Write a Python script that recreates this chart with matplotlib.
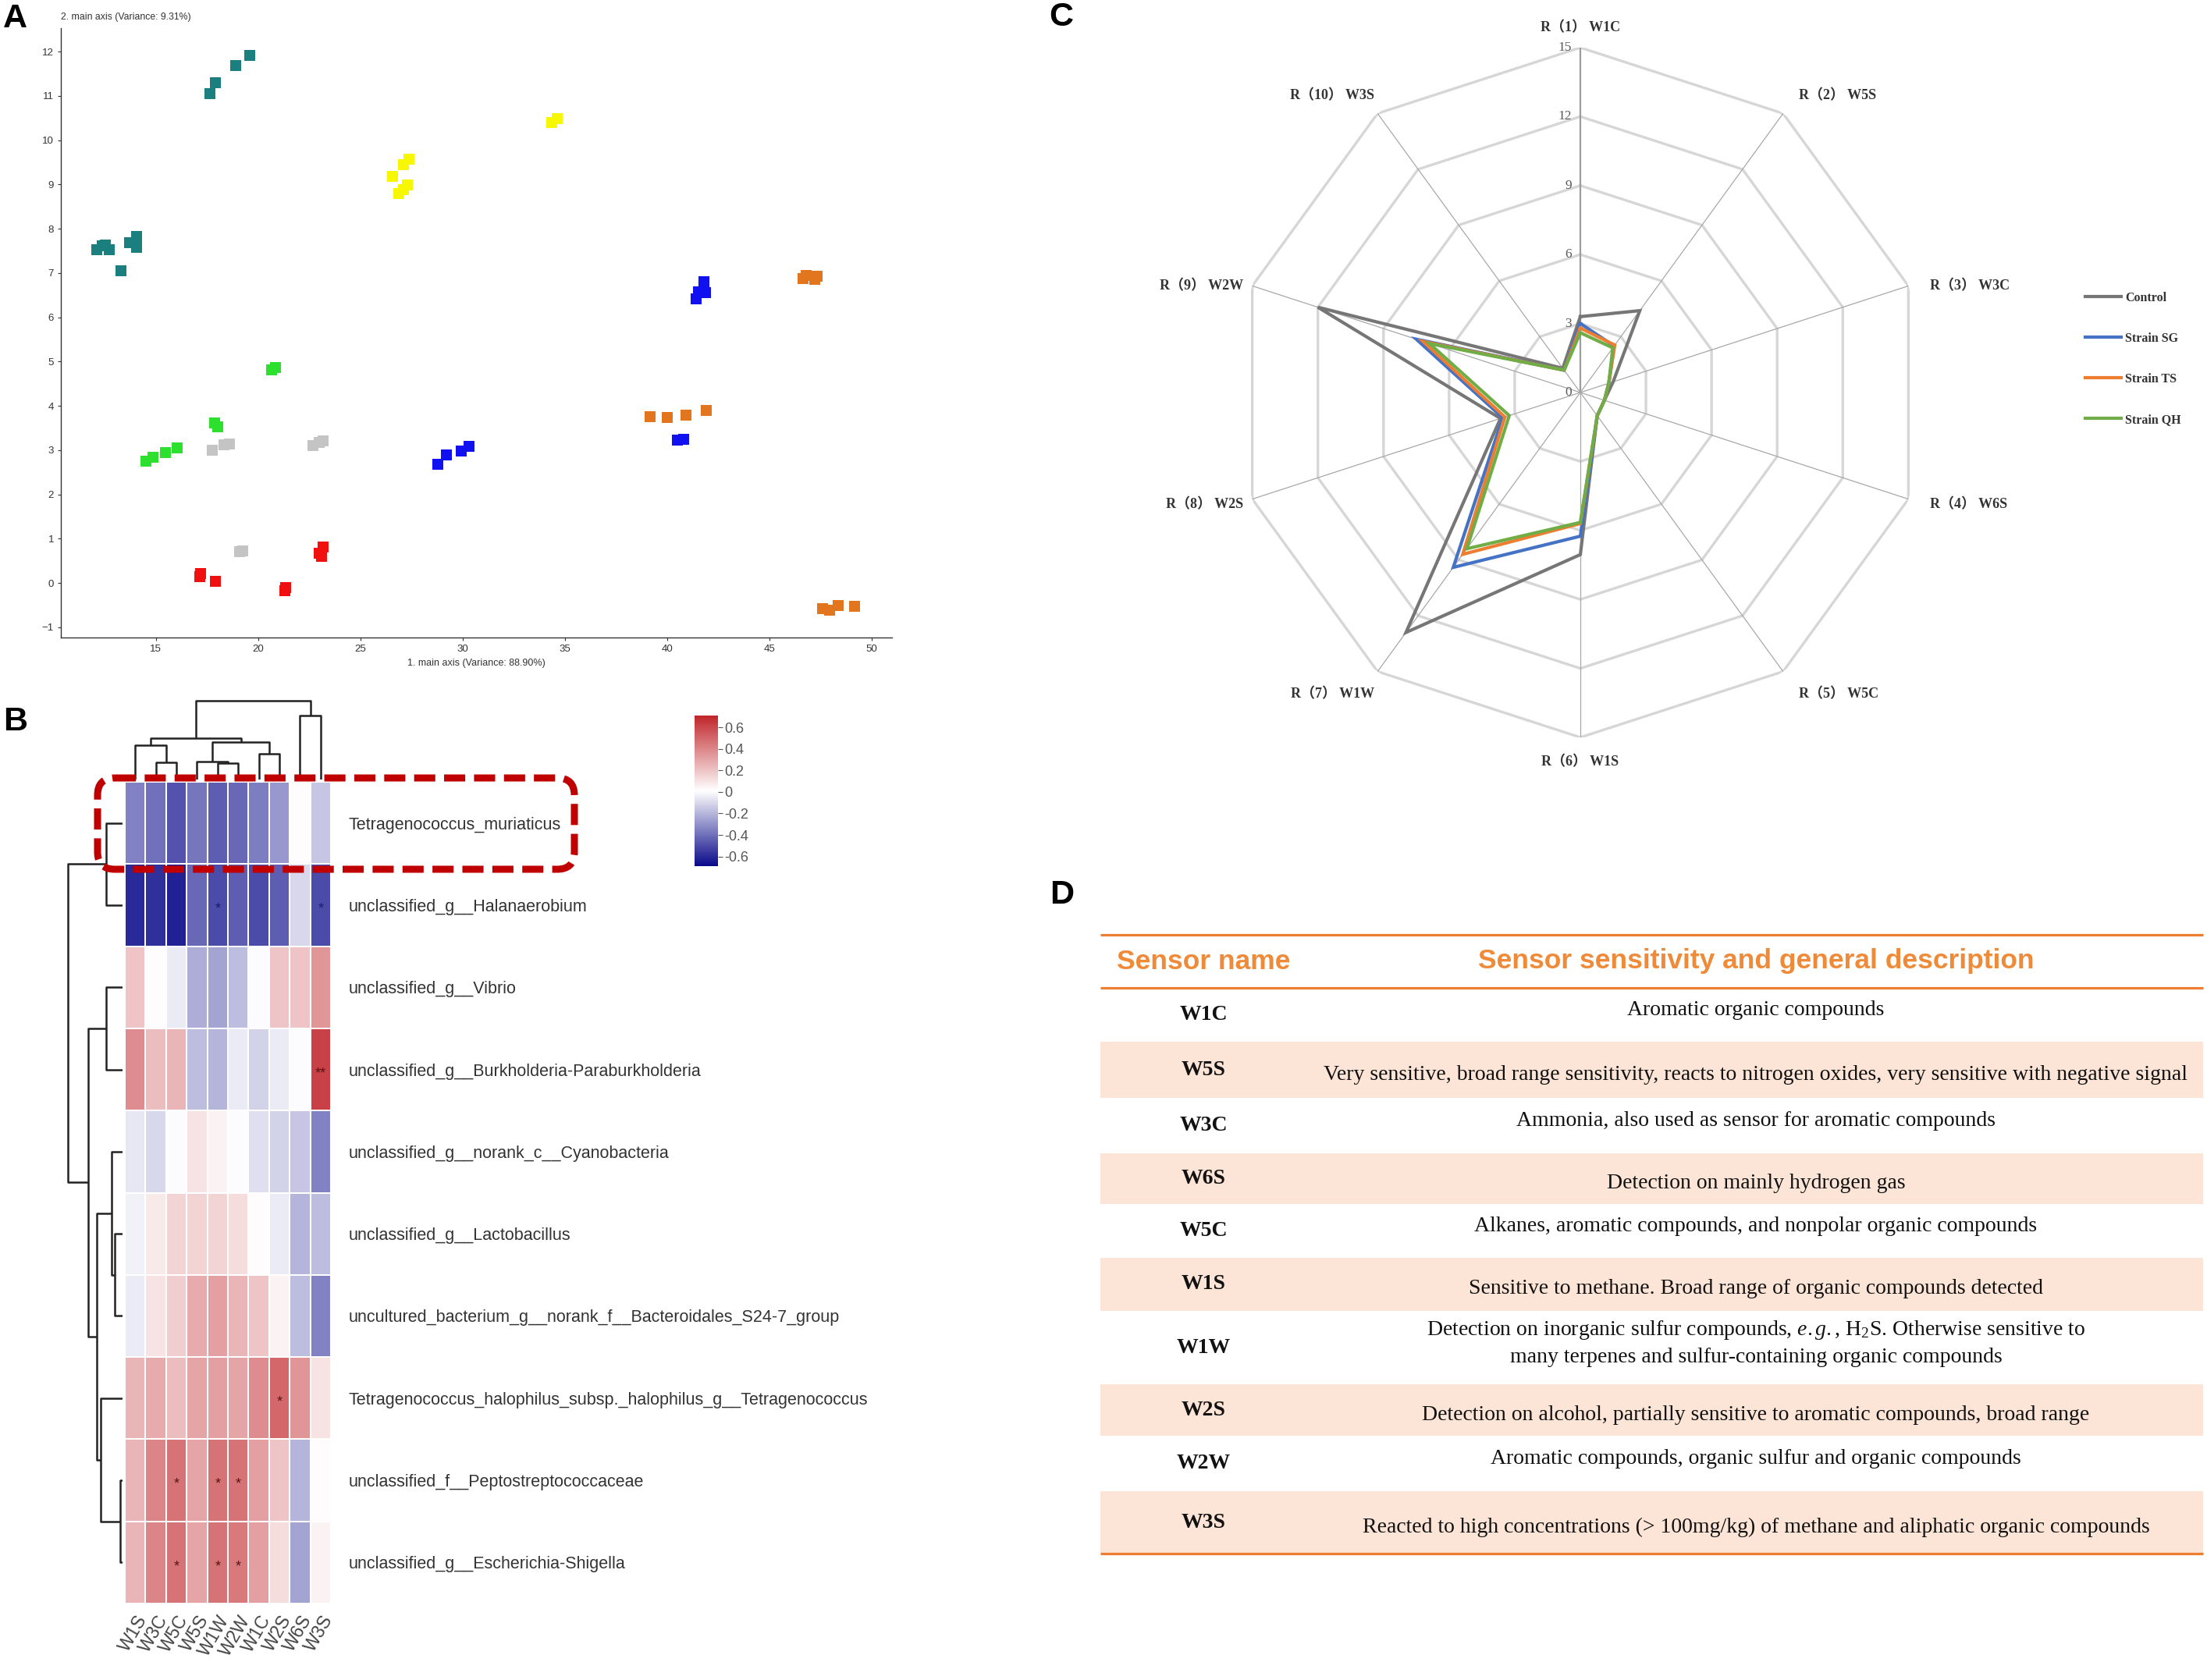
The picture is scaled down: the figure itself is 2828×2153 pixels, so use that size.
import matplotlib
matplotlib.use('Agg')
import matplotlib.pyplot as plt
import numpy as np
from matplotlib.colors import LinearSegmentedColormap
from matplotlib.patches import FancyBboxPatch, Rectangle

plt.rcParams['font.family'] = ['Liberation Sans', 'DejaVu Sans']
plt.rcParams['mathtext.fontset'] = 'custom'
plt.rcParams['mathtext.rm'] = 'Liberation Serif'
plt.rcParams['mathtext.it'] = 'Liberation Serif:italic'

# ---- panel A: PCA scores ----
pca_x = [17.64, 17.92, 18.91, 19.59, 12.11, 12.39, 12.53, 12.73, 13.27, 13.72, 14.04, 14.06,
         26.56, 26.87, 27.10, 27.30, 27.10, 27.36, 34.35, 34.61,
         20.67, 20.84, 17.86, 18.03, 14.52, 14.86, 15.48, 16.05,
         17.75, 18.32, 18.60, 22.68, 23.00, 23.16, 19.08, 19.25,
         17.15, 17.18, 17.89, 21.32, 21.35, 23.00, 23.08, 23.19,
         28.80, 29.20, 29.93, 30.30, 40.50, 40.79, 41.41, 41.52, 41.89, 41.81,
         39.17, 39.99, 40.93, 41.92, 46.65, 46.82, 47.22, 47.33, 47.62, 47.93, 48.38, 49.15]
pca_y = [11.05, 11.30, 11.69, 11.92, 7.53, 7.61, 7.63, 7.53, 7.05, 7.69, 7.58, 7.82,
         9.18, 8.79, 8.89, 8.99, 9.45, 9.57, 10.40, 10.49,
         4.81, 4.86, 3.61, 3.53, 2.75, 2.84, 2.94, 3.06,
         2.99, 3.13, 3.14, 3.11, 3.18, 3.21, 0.71, 0.73,
         0.14, 0.21, 0.03, -0.18, -0.10, 0.68, 0.61, 0.82,
         2.69, 2.89, 2.98, 3.09, 3.22, 3.25, 6.41, 6.58, 6.56, 6.81,
         3.76, 3.74, 3.79, 3.90, 6.88, 6.95, 6.85, 6.93, -0.57, -0.61, -0.51, -0.52]
pca_group = (['teal'] * 12 + ['yellow'] * 8 + ['green'] * 8 + ['gray'] * 8 +
             ['red'] * 8 + ['blue'] * 10 + ['orange'] * 12)
group_colors = {'teal': '#1b7f80', 'yellow': '#f7f700', 'green': '#2ee02e', 'gray': '#c4c4c4',
                'red': '#f01010', 'blue': '#1010f0', 'orange': '#e2761e'}

# ---- panel B: correlation heatmap ----
sensor_cols = ['W1S', 'W3C', 'W5C', 'W5S', 'W1W', 'W2W', 'W1C', 'W2S', 'W6S', 'W3S']
taxa = ['Tetragenococcus_muriaticus',
        'unclassified_g__Halanaerobium',
        'unclassified_g__Vibrio',
        'unclassified_g__Burkholderia-Paraburkholderia',
        'unclassified_g__norank_c__Cyanobacteria',
        'unclassified_g__Lactobacillus',
        'uncultured_bacterium_g__norank_f__Bacteroidales_S24-7_group',
        'Tetragenococcus_halophilus_subsp._halophilus_g__Tetragenococcus',
        'unclassified_f__Peptostreptococcaceae',
        'unclassified_g__Escherichia-Shigella']
corr = [[-0.35, -0.40, -0.48, -0.38, -0.45, -0.42, -0.36, -0.28, 0.02, -0.15],
        [-0.60, -0.58, -0.62, -0.42, -0.50, -0.45, -0.50, -0.45, -0.10, -0.50],
        [0.20, 0.02, -0.05, -0.22, -0.25, -0.18, 0.00, 0.20, 0.20, 0.35],
        [0.38, 0.22, 0.25, -0.18, -0.20, -0.05, -0.12, -0.05, 0.00, 0.62],
        [-0.06, -0.10, 0.00, 0.10, 0.05, 0.00, -0.08, -0.12, -0.15, -0.35],
        [-0.03, 0.08, 0.15, 0.15, 0.15, 0.12, 0.02, -0.05, -0.20, -0.18],
        [-0.05, 0.10, 0.17, 0.28, 0.32, 0.25, 0.20, 0.05, -0.18, -0.35],
        [0.25, 0.28, 0.22, 0.30, 0.32, 0.30, 0.38, 0.50, 0.35, 0.10],
        [0.25, 0.40, 0.46, 0.30, 0.46, 0.46, 0.32, 0.20, -0.20, 0.02],
        [0.25, 0.40, 0.46, 0.30, 0.46, 0.44, 0.32, 0.12, -0.25, 0.05]]
signif = [['', '', '', '', '', '', '', '', '', ''],
          ['', '', '', '', '*', '', '', '', '', '*'],
          ['', '', '', '', '', '', '', '', '', ''],
          ['', '', '', '', '', '', '', '', '', '**'],
          ['', '', '', '', '', '', '', '', '', ''],
          ['', '', '', '', '', '', '', '', '', ''],
          ['', '', '', '', '', '', '', '', '', ''],
          ['', '', '', '', '', '', '', '*', '', ''],
          ['', '', '*', '', '*', '*', '', '', '', ''],
          ['', '', '*', '', '*', '*', '', '', '', '']]
# dendrogram merges: (left id, right id, height)
col_links = [(1, 2, 21.7), (0, 10, 44), (4, 5, 20.7), (3, 12, 23.3), (6, 7, 32.7),
             (13, 14, 48.3), (11, 15, 53.3), (8, 9, 82.3), (16, 17, 100.7)]
row_links = [(0, 1, 20.7), (2, 3, 20.7), (5, 6, 10), (4, 12, 14.3), (8, 9, 3.3),
             (7, 14, 27.7), (13, 15, 32.7), (11, 16, 44.3), (10, 17, 70)]

# ---- panel C: e-nose radar ----
radar_labels = ['R（1） W1C', 'R（2） W5S', 'R（3） W3C', 'R（4） W6S', 'R（5） W5C',
                'R（6） W1S', 'R（7） W1W', 'R（8） W2S', 'R（9） W2W', 'R（10） W3S']
radar_series = ['Control', 'Strain SG', 'Strain TS', 'Strain QH']
control = [3.3, 4.4, 1.5, 1.1, 1.25, 7.05, 12.9, 3.65, 12.0, 1.3]
strain_sg = [3.0, 2.5, 1.3, 1.1, 1.25, 6.25, 9.4, 3.55, 7.5, 1.2]
strain_ts = [2.8, 2.55, 1.3, 1.1, 1.25, 5.7, 8.7, 3.45, 7.2, 1.2]
strain_qh = [2.6, 2.4, 1.3, 1.1, 1.25, 5.65, 8.4, 3.25, 6.9, 1.2]
radar_colors = ['#767676', '#4472c4', '#ed7d31', '#70ad47']
radar_ticks = [0, 3, 6, 9, 12, 15]

# ---- panel D: sensor table ----
sensor_names = ['W1C', 'W5S', 'W3C', 'W6S', 'W5C', 'W1S', 'W1W', 'W2S', 'W2W', 'W3S']
sensor_desc = ['Aromatic organic compounds',
               'Very sensitive, broad range sensitivity, reacts to nitrogen oxides, very sensitive with negative signal',
               'Ammonia, also used as sensor for aromatic compounds',
               'Detection on mainly hydrogen gas',
               'Alkanes, aromatic compounds, and nonpolar organic compounds',
               'Sensitive to methane. Broad range of organic compounds detected',
               'Detection on inorganic sulfur compounds, $e.g.$, H$_2$S. Otherwise sensitive to\n'
               'many terpenes and sulfur-containing organic compounds',
               'Detection on alcohol, partially sensitive to aromatic compounds, broad range',
               'Aromatic compounds, organic sulfur and organic compounds',
               'Reacted to high concentrations (> 100mg/kg) of methane and aliphatic organic compounds']

W, H = 2828, 2153
fig = plt.figure(figsize=(W / 100, H / 100), dpi=100)


def px_axes(left, top, right, bottom, **kw):
    # add axes from a pixel box (origin top-left)
    return fig.add_axes([left / W, 1 - bottom / H, (right - left) / W, (bottom - top) / H], **kw)


# ===== A =====
axA = px_axes(78, 36, 1143, 817)
for g, c in group_colors.items():
    xs = [x for x, gg in zip(pca_x, pca_group) if gg == g]
    ys = [y for y, gg in zip(pca_y, pca_group) if gg == g]
    axA.scatter(xs, ys, marker='s', s=90, color=c, linewidths=0)
axA.set_xlim(10.35, 51.0)
axA.set_ylim(-1.23, 12.53)
axA.set_xticks(range(15, 51, 5))
axA.set_yticks(range(-1, 13))
axA.spines[['top', 'right']].set_visible(False)
for s in ['left', 'bottom']:
    axA.spines[s].set_color('#333333')
    axA.spines[s].set_linewidth(1.0)
axA.tick_params(labelsize=9.5, length=3, width=0.8, colors='#333333')
axA.set_xlabel('1. main axis (Variance: 88.90%)', fontsize=9, color='#333333', labelpad=4)
fig.text(78 / W, 1 - 22 / H, '2. main axis (Variance: 9.31%)', fontsize=8.8, color='#333333',
         va='center', ha='left')

# ===== B =====
cmap = LinearSegmentedColormap.from_list('corr', ['#0a0a8a', '#ffffff', '#c0262b'])
hx0, hx1, hy0, hy1 = 160, 424, 1002, 2055
axH = px_axes(hx0, hy0, hx1, hy1)
data = np.array(corr)
mesh = axH.pcolormesh(data, cmap=cmap, vmin=-0.69, vmax=0.71, edgecolors='white', linewidth=1.2)
axH.set_xlim(0, len(sensor_cols))
axH.set_ylim(len(taxa), 0)
for sp in axH.spines.values():
    sp.set_visible(False)
axH.yaxis.tick_right()
axH.set_yticks(np.arange(len(taxa)) + 0.5, labels=taxa)
axH.set_xticks(np.arange(len(sensor_cols)) + 0.5, labels=sensor_cols)
axH.tick_params(axis='y', length=0, pad=16, labelsize=15.5, labelcolor='#333333')
axH.tick_params(axis='x', length=0, pad=8, labelsize=16.5, labelcolor='#444444')
for lab in axH.get_xticklabels():
    lab.set_rotation(60)
    lab.set_ha('right')
    lab.set_rotation_mode('anchor')
for i in range(len(taxa)):
    for j in range(len(sensor_cols)):
        if signif[i][j]:
            col = '#1c1c70' if corr[i][j] < -0.3 else '#5a1414'
            axH.text(j + 0.5, i + 0.55, signif[i][j], ha='center', va='center', fontsize=13, color=col)


def draw_dendro(ax, links, n, orient):
    pos = {i: i + 0.5 for i in range(n)}
    hgt = {i: 0.0 for i in range(n)}
    for k, (a, b, h) in enumerate(links):
        xs = [pos[a], pos[a], pos[b], pos[b]]
        ys = [hgt[a], h, h, hgt[b]]
        if orient == 'top':
            ax.plot(xs, ys, color='#222222', lw=1.8, solid_capstyle='butt')
        else:
            ax.plot(ys, xs, color='#222222', lw=1.8, solid_capstyle='butt')
        pos[n + k] = (pos[a] + pos[b]) / 2
        hgt[n + k] = h


axCD = px_axes(hx0, 890, hx1, 999)
draw_dendro(axCD, col_links, len(sensor_cols), 'top')
axCD.set_xlim(0, len(sensor_cols))
axCD.set_ylim(0, 109)
axCD.axis('off')

axRD = px_axes(84, hy0, hx0 - 3, hy1)
draw_dendro(axRD, row_links, len(taxa), 'left')
axRD.set_xlim(73, 0)
axRD.set_ylim(len(taxa), 0)
axRD.axis('off')

cax = px_axes(890, 917, 920, 1110)
cb = fig.colorbar(mesh, cax=cax, ticks=[0.6, 0.4, 0.2, 0, -0.2, -0.4, -0.6])
cb.outline.set_visible(False)
cb.ax.set_yticklabels(['0.6', '0.4', '0.2', '0', '-0.2', '-0.4', '-0.6'])
cb.ax.tick_params(labelsize=13, length=4, width=0.8, colors='#555555', pad=2)

# ===== C =====
cx, cy, R = 2025, 503, 442
axR = px_axes(cx - R, cy - R, cx + R, cy + R, projection='polar')
axR.set_theta_zero_location('N')
axR.set_theta_direction(-1)
axR.set_ylim(0, 15)
axR.grid(False)
axR.spines['polar'].set_visible(False)
axR.set_xticks([])
axR.set_yticks([])
theta = np.arange(len(radar_labels)) * 2 * np.pi / len(radar_labels)
theta_c = np.append(theta, theta[0])
for r in radar_ticks[1:]:
    axR.plot(theta_c, [r] * len(theta_c), color='#d6d6d6', lw=2.4, zorder=1)
for k, t in enumerate(theta):
    axR.plot([t, t], [0, 15], color='#9c9c9c' if k == 0 else '#a8a8a8',
             lw=1.6 if k == 0 else 0.9, zorder=2)
series_lines = []
for vals, name, col in zip([control, strain_sg, strain_ts, strain_qh], radar_series, radar_colors):
    ln, = axR.plot(theta_c, vals + vals[:1], color=col, lw=3, label=name, zorder=3,
                   solid_joinstyle='miter')
    series_lines.append(ln)
for r in radar_ticks:
    axR.annotate(str(r), xy=(0, r), xytext=(-8, 0), textcoords='offset points', ha='right',
                 va='center', fontsize=12.5, color='#595959', family=['Liberation Serif'])
label_offsets = [(0, 18.7), (14.4, 16.6), (20, 0), (20, -5), (14.4, -21),
                 (0, -23), (-3, -21), (-8.6, -5), (-8.6, 0), (-3, 16.6)]
for t, lab, off in zip(theta, radar_labels, label_offsets):
    s = np.sin(t)
    ha = 'center' if abs(s) < 0.1 else ('left' if s > 0 else 'right')
    axR.annotate(lab, xy=(t, 15), xytext=off, textcoords='offset points', ha=ha, va='center',
                 fontsize=13, fontweight='bold', color='#333333',
                 family=['Liberation Serif', 'Noto Sans CJK SC'])
axR.legend(handles=series_lines, loc='upper left', bbox_to_anchor=(2672 / W, 1 - 374 / H),
           bbox_transform=fig.transFigure, frameon=False, handlelength=2.9, handletextpad=0.3,
           labelspacing=2.25, borderpad=0, borderaxespad=0, labelcolor='#333333',
           prop={'family': 'Liberation Serif', 'weight': 'bold', 'size': 11.5})

# ===== overlay: labels, highlight box, table D =====
ov = fig.add_axes([0, 0, 1, 1])
ov.set_xlim(0, W)
ov.set_ylim(H, 0)
ov.axis('off')

for lab, (x, y) in zip('ABCD', [(4, 24), (4, 925), (1344, 22), (1345, 1147)]):
    ov.text(x, y, lab, fontsize=31, fontweight='bold', ha='left', va='center', color='black')

ov.add_patch(FancyBboxPatch((125, 997), 611, 117, boxstyle='round,pad=0,rounding_size=22',
                            fill=False, edgecolor='#c00000', lw=6.5, linestyle=(0, (3, 1.25))))

tx0, tx1 = 1410, 2823
row_edges = [1266, 1335, 1407, 1478, 1543, 1612, 1680, 1774, 1840, 1911, 1991]
for i, (nm, ds) in enumerate(zip(sensor_names, sensor_desc)):
    y0, y1 = row_edges[i], row_edges[i + 1]
    shaded = i % 2 == 1
    if shaded:
        ov.add_patch(Rectangle((tx0, y0), tx1 - tx0, y1 - y0, color='#fce4d6', lw=0))
    yc = (y0 + y1) / 2
    ov.text(1542, yc, nm, ha='center', va='center', fontsize=20, fontweight='bold',
            family='Liberation Serif', color='#111111')
    ov.text(2250, yc + (6 if shaded else -6), ds, ha='center', va='center', multialignment='center',
            fontsize=20, family='Liberation Serif', color='#111111', linespacing=1.45)
for y in [1198, 1266, 1991]:
    ov.plot([tx0, tx1], [y, y], color='#ed7d31', lw=2.3, solid_capstyle='butt')
ov.text(1542, 1232, 'Sensor name', ha='center', va='center', fontsize=25.5, fontweight='bold',
        color='#ef8a38')
ov.text(2250, 1232, 'Sensor sensitivity and general description', ha='center', va='center',
        fontsize=25.5, fontweight='bold', color='#ef8a38')

fig.savefig('out.png', dpi=100, facecolor='white')
